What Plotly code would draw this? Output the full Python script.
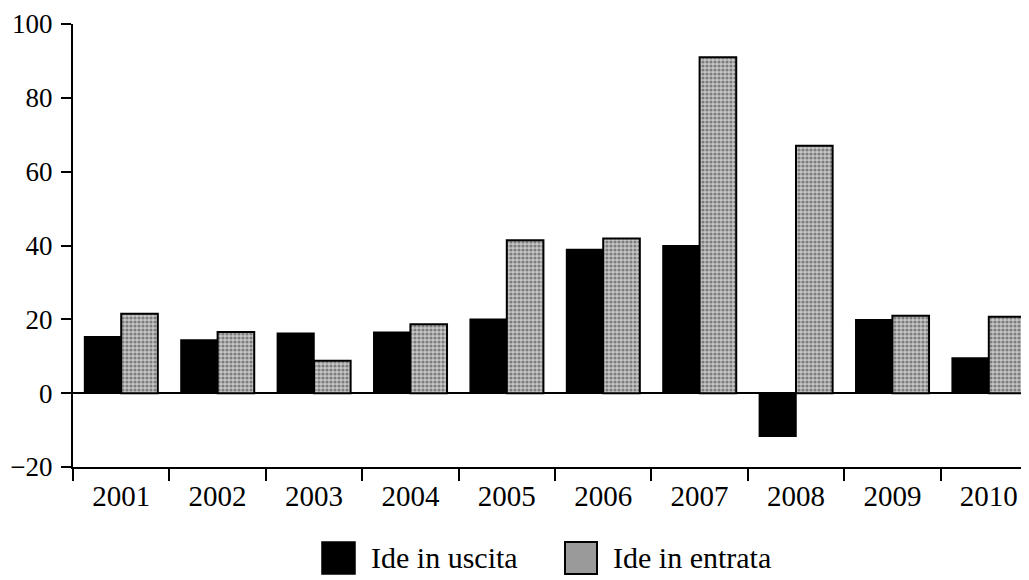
import plotly.graph_objects as go

years = ["2001", "2002", "2003", "2004", "2005", "2006", "2007", "2008", "2009", "2010"]
ide_uscita = [15.3, 14.4, 16.2, 16.5, 20.0, 38.9, 39.9, -11.7, 19.9, 9.5]
ide_entrata = [21.5, 16.6, 8.8, 18.7, 41.4, 41.9, 91.0, 67.0, 21.0, 20.7]
series_names = ["Ide in uscita", "Ide in entrata"]
y_ticks = [-20, 0, 20, 40, 60, 80, 100]

FONT = "Liberation Serif"

# page has an 8px body margin; plot area in page pixels: x 73..1037, y 24..467
PW, PH = 964, 443


def px(page_x):
    return (page_x - 73) / PW


def py(page_y):
    return (467 - page_y) / PH


fig = go.Figure()
fig.add_trace(go.Bar(
    x=years, y=ide_uscita, name=series_names[0],
    marker=dict(color="black", line=dict(color="black", width=1.5)),
    showlegend=False,
))
fig.add_trace(go.Bar(
    x=years, y=ide_entrata, name=series_names[1],
    marker=dict(
        color="#a0a0a0",
        line=dict(color="black", width=2),
        pattern=dict(shape=".", fgcolor="#333333", bgcolor="#c6c6c6", size=4, solidity=0.5),
    ),
    showlegend=False,
))

fig.update_layout(
    width=1029, height=580,
    margin=dict(l=65, r=0, t=16, b=121),
    paper_bgcolor="white", plot_bgcolor="white",
    barmode="group", bargap=0.24, bargroupgap=0,
    font=dict(family=FONT, size=29, color="black"),
    showlegend=False,
)
fig.update_xaxes(
    type="category", range=[-0.5, 9.5], automargin=False,
    showline=True, linecolor="black", linewidth=2,
    ticks="outside", tickson="boundaries", ticklen=12, tickwidth=2, tickcolor="black",
    showgrid=False, zeroline=False,
    tickfont=dict(family=FONT, size=29),
    ticklabelstandoff=2, ticklabeloverflow="allow",
)
fig.update_yaxes(
    range=[-20, 100], tickvals=y_ticks, automargin=False,
    showline=True, linecolor="black", linewidth=2,
    ticks="outside", ticklen=10, tickwidth=2, tickcolor="black",
    showgrid=False, zeroline=True, zerolinecolor="black", zerolinewidth=2,
    tickfont=dict(family=FONT, size=27),
    ticklabelstandoff=3, ticklabeloverflow="allow",
)

# Legend drawn below the plot
fig.add_shape(type="rect", xref="paper", yref="paper",
              x0=px(322), x1=px(355), y0=py(574), y1=py(542),
              fillcolor="black", line=dict(color="black", width=1.5))
fig.add_shape(type="rect", xref="paper", yref="paper",
              x0=px(565), x1=px(597), y0=py(574), y1=py(542),
              fillcolor="#9a9a9a", line=dict(color="black", width=2))
fig.add_annotation(text=series_names[0], xref="paper", yref="paper",
                   x=px(369), y=py(557),
                   xanchor="left", yanchor="middle", showarrow=False,
                   font=dict(family=FONT, size=30))
fig.add_annotation(text=series_names[1], xref="paper", yref="paper",
                   x=px(611), y=py(557),
                   xanchor="left", yanchor="middle", showarrow=False,
                   font=dict(family=FONT, size=30))

fig.write_html("out.html")
